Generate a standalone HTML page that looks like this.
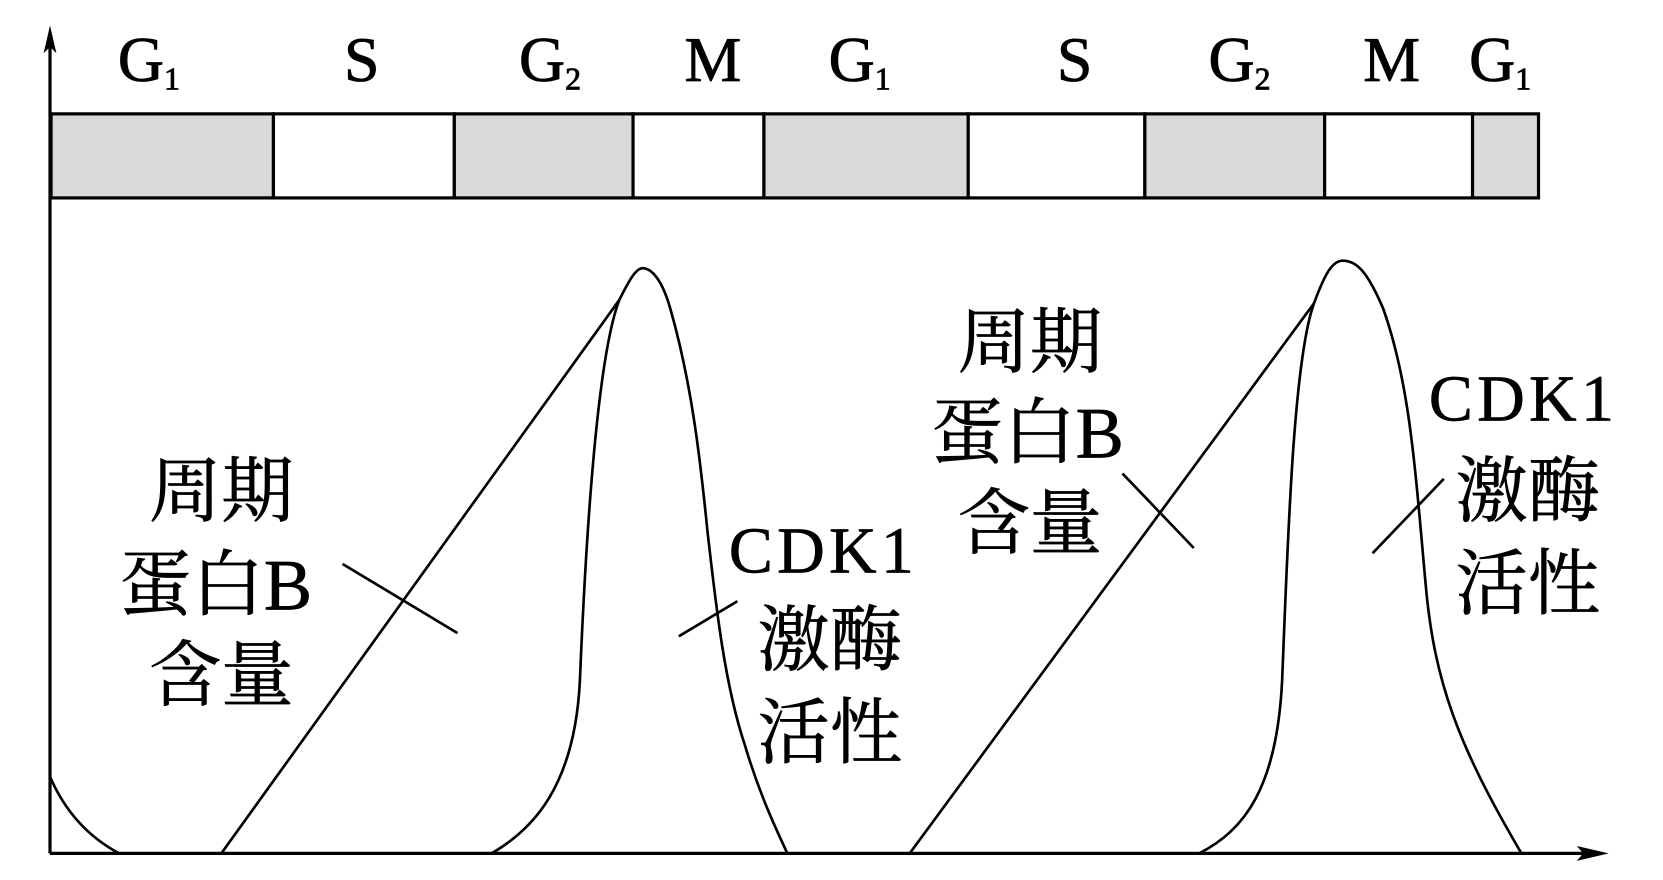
<!DOCTYPE html>
<html><head><meta charset="utf-8"><style>html,body{margin:0;padding:0;background:#fff;}svg{display:block}</style></head>
<body>
<svg width="1663" height="880" viewBox="0 0 1563 827" preserveAspectRatio="none" xmlns="http://www.w3.org/2000/svg">
<g stroke="#000" stroke-width="3" fill="none">
<line x1="47" y1="32" x2="47" y2="802"/>
<line x1="47" y1="802" x2="1500" y2="802"/>
</g>
<polygon points="47,24 41,50 47,44 53,50" fill="#000"/>
<polygon points="1512,802 1482,795 1488,802 1482,809" fill="#000"/>
<g stroke="#000" stroke-width="3">
<rect x="48" y="107" width="209" height="79" fill="#d9d9d9"/>
<rect x="257" y="107" width="170" height="79" fill="#fff"/>
<rect x="427" y="107" width="168" height="79" fill="#d9d9d9"/>
<rect x="595" y="107" width="123" height="79" fill="#fff"/>
<rect x="718" y="107" width="192" height="79" fill="#d9d9d9"/>
<rect x="910" y="107" width="166" height="79" fill="#fff"/>
<rect x="1076" y="107" width="169" height="79" fill="#d9d9d9"/>
<rect x="1245" y="107" width="139" height="79" fill="#fff"/>
<rect x="1384" y="107" width="62" height="79" fill="#d9d9d9"/>
</g>
<g font-family="Liberation Serif, serif" font-size="60" fill="#000" stroke="#000" stroke-width="0.8" text-anchor="middle">
<text x="140" y="76">G<tspan font-size="30" dy="8">1</tspan></text>
<text x="340" y="76">S</text>
<text x="517" y="76">G<tspan font-size="30" dy="8">2</tspan></text>
<text x="670" y="76">M</text>
<text x="808" y="76">G<tspan font-size="30" dy="8">1</tspan></text>
<text x="1010" y="76">S</text>
<text x="1165" y="76">G<tspan font-size="30" dy="8">2</tspan></text>
<text x="1308" y="76">M</text>
<text x="1410" y="76">G<tspan font-size="30" dy="8">1</tspan></text>
</g>
<g stroke="#000" stroke-width="2.5" fill="none">
<path d="M47,730 C60,760 80,785 112,802"/>
<path d="M208,802 L582,282 C592,262 598,252 604,252 C612,252 622,262 630,290 C650,360 658,430 665,500 C672,560 680,640 700,700 C715,750 730,780 740,802"/>
<path d="M462,802 C500,780 540,740 545,640 C550,520 560,340 582,282"/>
<path d="M855,802 L1235,285 C1245,258 1252,245 1262,245 C1275,245 1285,255 1300,290 C1325,360 1330,440 1340,550 C1348,640 1370,700 1430,802"/>
<path d="M1127,802 C1170,780 1200,740 1205,640 C1210,520 1215,340 1235,285"/>
<line x1="322" y1="530" x2="430" y2="595"/>
<line x1="638" y1="598" x2="693" y2="565"/>
<line x1="1055" y1="445" x2="1122" y2="515"/>
<line x1="1290" y1="520" x2="1357" y2="450"/>
</g>
<g font-family="Liberation Serif, 'Noto Serif CJK SC', serif" font-size="68" fill="#000" stroke="#000" stroke-width="0.6">
<text x="140" y="485">周期</text>
<text x="112" y="573">蛋白B</text>
<text x="140" y="658">含量</text>
<text x="685" y="538" font-size="62" letter-spacing="4">CDK1</text>
<text x="712" y="625">激酶</text>
<text x="712" y="712">活性</text>
<text x="900" y="345">周期</text>
<text x="875" y="430">蛋白B</text>
<text x="900" y="515">含量</text>
<text x="1343" y="395" font-size="62" letter-spacing="4">CDK1</text>
<text x="1368" y="485">激酶</text>
<text x="1368" y="572">活性</text>
</g>
</svg>
</body></html>
